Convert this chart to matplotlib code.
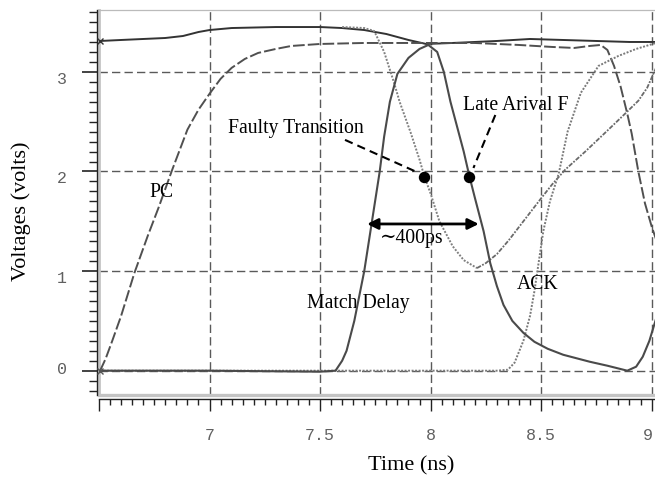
import matplotlib
matplotlib.use('Agg')
import matplotlib.pyplot as plt
from matplotlib.ticker import MultipleLocator, FixedLocator
from matplotlib.transforms import ScaledTranslation

# ---------------- data ----------------
top_t = [6.505, 6.6, 6.7, 6.8, 6.88, 6.95, 7.0, 7.1, 7.3, 7.5, 7.6, 7.7, 7.8, 7.9, 7.98,
         8.1, 8.3, 8.45, 8.6, 8.75, 8.9, 9.02]
top_v = [3.31, 3.32, 3.33, 3.34, 3.36, 3.40, 3.42, 3.44, 3.45, 3.45, 3.44, 3.42, 3.38, 3.32, 3.28,
         3.29, 3.31, 3.33, 3.32, 3.31, 3.30, 3.30]

pc_t = [6.505, 6.53, 6.56, 6.6, 6.66, 6.72, 6.77, 6.83, 6.9, 6.95, 7.0, 7.05, 7.1, 7.16, 7.22,
        7.3, 7.37, 7.5, 7.7, 8.0, 8.2, 8.4, 8.55, 8.65, 8.72, 8.77, 8.80, 8.83, 8.86, 8.89,
        8.91, 8.94, 8.97, 9.0, 9.02]
pc_v = [0.0, 0.12, 0.3, 0.55, 0.98, 1.35, 1.64, 2.01, 2.42, 2.62, 2.78, 2.93, 3.04, 3.13, 3.19,
        3.23, 3.26, 3.28, 3.29, 3.29, 3.29, 3.27, 3.25, 3.24, 3.26, 3.27, 3.22, 3.06, 2.85, 2.58,
        2.38, 2.0, 1.68, 1.45, 1.32]

match_t = [6.505, 7.0, 7.5, 7.57, 7.6, 7.62, 7.655, 7.70, 7.735, 7.77, 7.79, 7.816, 7.85, 7.9,
           7.95, 7.99, 8.03, 8.06, 8.09, 8.12, 8.15, 8.176, 8.2, 8.24, 8.27, 8.3, 8.33, 8.37,
           8.42, 8.47, 8.53, 8.6, 8.72, 8.8, 8.89, 8.93, 8.96, 8.99, 9.02]
match_v = [0.0, 0.0, -0.01, 0.0, 0.1, 0.2, 0.5, 1.0, 1.5, 2.0, 2.35, 2.7, 2.98, 3.14,
           3.23, 3.27, 3.2, 3.0, 2.7, 2.45, 2.2, 1.95, 1.74, 1.4, 1.08, 0.85, 0.66, 0.5,
           0.38, 0.29, 0.22, 0.16, 0.09, 0.05, 0.0, 0.04, 0.14, 0.3, 0.52]

fault_fall_t = [7.6, 7.7, 7.745, 7.79, 7.835, 7.86, 7.91, 7.95, 7.972, 8.0, 8.04, 8.1, 8.15, 8.21]
fault_fall_v = [3.45, 3.44, 3.41, 3.2, 2.89, 2.7, 2.39, 2.12, 1.95, 1.78, 1.5, 1.25, 1.11, 1.03]

fault_rise_t = [8.21, 8.25, 8.3, 8.354, 8.42, 8.5, 8.55, 8.61, 8.7, 8.8, 8.88, 8.94, 8.98, 9.02]
fault_rise_v = [1.03, 1.08, 1.17, 1.31, 1.5, 1.73, 1.87, 2.02, 2.2, 2.41, 2.58, 2.71, 2.84, 3.04]

ack_t = [6.505, 7.5, 8.0, 8.3, 8.35, 8.38, 8.42, 8.45, 8.47, 8.49, 8.51, 8.54, 8.58, 8.62,
         8.68, 8.76, 8.85, 8.93, 9.02]
ack_v = [0.0, 0.0, 0.0, 0.0, 0.01, 0.08, 0.3, 0.55, 0.8, 1.1, 1.4, 1.7, 1.98, 2.4,
         2.79, 3.06, 3.16, 3.23, 3.29]

dot_t = [7.972, 8.176]
dot_v = [1.948, 1.948]

x_major = [6.5, 7.0, 7.5, 8.0, 8.5, 9.0]
x_labels = ['', '7', '7.5', '8', '8.5', '9']
y_major = [0, 1, 2, 3]
y_labels = ['0', '1', '2', '3']

# ---------------- figure ----------------
fig = plt.figure(figsize=(6.55, 4.78), dpi=100)
ax = fig.add_axes([99 / 655, 83 / 478, 556 / 655, 385 / 478])
ax.set_xlim(6.5, 9.0154)
ax.set_ylim(-0.244, 3.621)

grid_kw = dict(color='#5a5a5a', lw=1.0, dashes=(6, 3), zorder=1)
for gx in [7.0, 7.5, 8.0, 8.5, 9.0]:
    ax.axvline(gx, **grid_kw)
for gy in [0, 1, 2, 3]:
    ax.axhline(gy, **grid_kw)

ax.plot(top_t, top_v, color='#333333', lw=1.4, zorder=3)
ax.plot(pc_t, pc_v, color='#505050', lw=1.4, dashes=(6, 1.6), zorder=3)
ax.plot(match_t, match_v, color='#4a4a4a', lw=1.5, zorder=4)
ax.plot(fault_fall_t, fault_fall_v, color='#808080', lw=1.4, dashes=(1, 0.8), zorder=3)
ax.plot(fault_rise_t, fault_rise_v, color='#6a6a6a', lw=1.3, dashes=(2.5, 0.8, 1, 0.8), zorder=3)
ax.plot(ack_t, ack_v, color='#7a7a7a', lw=1.4, dashes=(1, 0.8), zorder=3)

ax.plot([top_t[0]], [top_v[0]], marker='x', ms=4, color='#333333', mew=1.0, clip_on=False, zorder=5)
ax.plot([match_t[0]], [match_v[0]], marker='x', ms=4, color='#555555', mew=1.0, clip_on=False, zorder=5)

# annotation markers and arrows
ax.plot(dot_t, dot_v, 'o', color='black', ms=7.2, zorder=6)
ax.plot([7.613, 7.944], [2.317, 1.988], color='black', lw=1.5, dashes=(4, 2.5), zorder=6)
ax.plot([8.293, 8.194], [2.567, 2.035], color='black', lw=1.5, dashes=(4, 2.5), zorder=6)
ax.annotate('', xy=(7.713, 1.473), xytext=(8.218, 1.473),
            arrowprops=dict(arrowstyle='<|-|>', color='black', lw=2.0,
                            mutation_scale=16, shrinkA=0, shrinkB=0), zorder=6)

serif = ['Liberation Serif', 'DejaVu Serif']
tfs = 14.2
ax.text(7.39, 2.39, 'Faulty Transition', family=serif, fontsize=tfs, ha='center', va='baseline')
ax.text(8.384, 2.617, 'Late Arival F', family=serif, fontsize=tfs, ha='center', va='baseline')
ax.text(7.916, 1.282, '\u223c400ps', family=serif, fontsize=tfs, ha='center', va='baseline')
ax.text(6.784, 1.744, 'PC', family=serif, fontsize=tfs, ha='center', va='baseline')
ax.text(7.673, 0.626, 'Match Delay', family=serif, fontsize=tfs, ha='center', va='baseline')
ax.text(8.486, 0.822, 'ACK', family=serif, fontsize=tfs, ha='center', va='baseline')

fig.text(21 / 655, (478 - 211) / 478, 'Voltages (volts)', family=serif, fontsize=16,
         rotation=90, ha='center', va='center')
fig.text(411 / 655, (478 - 466) / 478, 'Time (ns)', family=serif, fontsize=16,
         ha='center', va='center')

# axes frame
for s in ['top', 'right']:
    ax.spines[s].set_visible(False)
ax.spines['left'].set_position(('outward', 1.8))
ax.spines['bottom'].set_position(('outward', 3.0))
ax.spines['left'].set_color('#222222')
ax.spines['bottom'].set_color('#222222')
ax.spines['left'].set_linewidth(1.0)
ax.spines['bottom'].set_linewidth(1.0)
ax.plot([0, 0], [0, 1], transform=ax.transAxes, color='#c4c4c4', lw=2.0, clip_on=False, zorder=2)
ax.plot([0, 1], [0, 0], transform=ax.transAxes, color='#c4c4c4', lw=2.4, clip_on=False, zorder=2)
ax.plot([0, 1], [1, 1], transform=ax.transAxes, color='#bbbbbb', lw=0.9, clip_on=False, zorder=2)

ax.xaxis.set_major_locator(FixedLocator(x_major))
ax.set_xticklabels(x_labels)
ax.xaxis.set_minor_locator(MultipleLocator(0.05))
ax.yaxis.set_major_locator(FixedLocator(y_major))
ax.set_yticklabels(y_labels)
ax.yaxis.set_minor_locator(MultipleLocator(0.1))

mono = 'Liberation Mono'
ax.tick_params(axis='x', which='major', direction='out', length=8.6, width=1.0,
               color='#222222', pad=12, labelsize=12, labelcolor='#606060')
ax.tick_params(axis='x', which='minor', direction='out', length=4.3, width=1.0, color='#222222')
ax.tick_params(axis='y', which='major', direction='out', length=10.6, width=1.2,
               color='#222222', pad=10.5, labelsize=12, labelcolor='#606060')
ax.tick_params(axis='y', which='minor', direction='out', length=5.5, width=1.0, color='#222222')
for lab in ax.get_xticklabels() + ax.get_yticklabels():
    lab.set_family(mono)

offs = {'0': 3, '1': -6, '2': -6, '3': -6}
for lab in ax.get_yticklabels():
    dy = offs.get(lab.get_text(), 0)
    lab.set_transform(lab.get_transform() + ScaledTranslation(0, dy / 100, fig.dpi_scale_trans))
for lab in ax.get_xticklabels():
    if lab.get_text() == '9':
        lab.set_transform(lab.get_transform() + ScaledTranslation(-4 / 100, 0, fig.dpi_scale_trans))

fig.savefig('out.png', dpi=100)
